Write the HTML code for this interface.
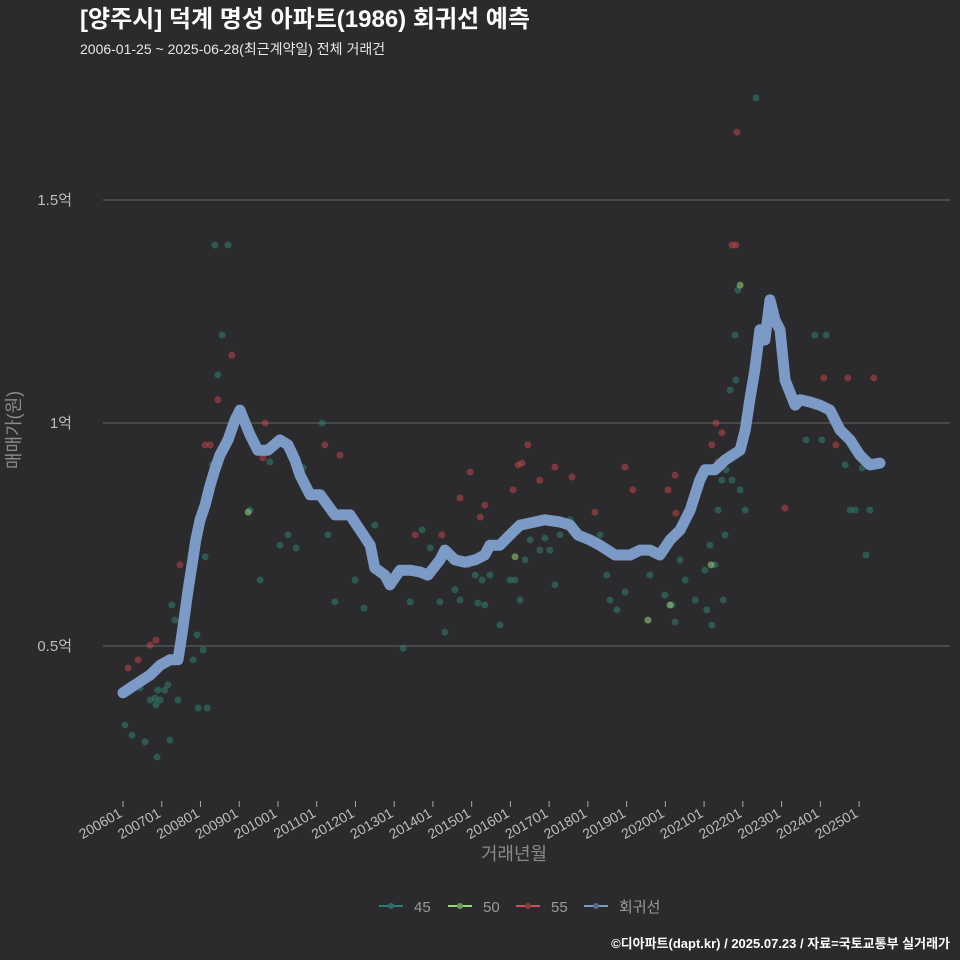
<!DOCTYPE html>
<html><head><meta charset="utf-8"><style>
html,body{margin:0;padding:0;background:#2b2a2c;}
svg{display:block;font-family:"Liberation Sans","Noto Sans CJK KR",sans-serif;}
</style></head><body>
<svg id="chart" width="960" height="960" viewBox="0 0 960 960">
<rect width="960" height="960" fill="#2b2a2c"/>
<text x="80" y="27" font-size="24" font-weight="bold" fill="#ffffff">[양주시] 덕계 명성 아파트(1986) 회귀선 예측</text>
<text x="80" y="54" font-size="14" fill="#e8e8e8">2006-01-25 ~ 2025-06-28(최근계약일) 전체 거래건</text>
<g id="grid"></g>
<g id="yaxis"></g>
<g id="xaxis"></g>
<g id="points"></g>
<path id="regline" fill="none" stroke="#7b9ac6" stroke-width="11" stroke-linejoin="round" stroke-linecap="round"/>
<text transform="translate(20,430) rotate(-90)" text-anchor="middle" font-size="18" fill="#8a8a8a">매매가(원)</text>
<text x="514" y="860" text-anchor="middle" font-size="18" fill="#8a8a8a">거래년월</text>
<g font-size="15" fill="#9a9a9a">
 <g><line x1="379" y1="906" x2="403" y2="906" stroke="#2a7f78" stroke-width="2"/><circle cx="391" cy="906" r="3" fill="#2a6f63"/><text x="414" y="912">45</text></g>
 <g><line x1="448" y1="906" x2="472" y2="906" stroke="#8fd97a" stroke-width="2"/><circle cx="460" cy="906" r="3" fill="#6aa056"/><text x="483" y="912">50</text></g>
 <g><line x1="516" y1="906" x2="540" y2="906" stroke="#d24f55" stroke-width="2"/><circle cx="528" cy="906" r="3" fill="#8a3a40"/><text x="551" y="912">55</text></g>
 <g><line x1="584" y1="906" x2="608" y2="906" stroke="#7b9ac6" stroke-width="2"/><circle cx="596" cy="906" r="3" fill="#556a8a"/><text x="619" y="912">회귀선</text></g>
</g>
<text x="950" y="948" text-anchor="end" font-size="13" font-weight="bold" fill="#ffffff">©디아파트(dapt.kr) / 2025.07.23 / 자료=국토교통부 실거래가</text>
</svg>
<script>
const yTicks=[0.5,1.0,1.5];
const yTickLabels=["0.5억","1억","1.5억"];
const xTickYears=[2006,2007,2008,2009,2010,2011,2012,2013,2014,2015,2016,2017,2018,2019,2020,2021,2022,2023,2024,2025];
const xTickLabels=["200601","200701","200801","200901","201001","201101","201201","201301","201401","201501","201601","201701","201801","201901","202001","202101","202201","202301","202401","202501"];
const regYears=[2006.0,2006.31,2006.7,2006.96,2007.21,2007.42,2007.52,2007.68,2007.78,2007.88,2007.99,2008.12,2008.25,2008.37,2008.5,2008.71,2008.89,2009.02,2009.12,2009.28,2009.48,2009.74,2010.05,2010.26,2010.44,2010.57,2010.83,2011.09,2011.47,2011.86,2012.12,2012.38,2012.5,2012.76,2012.89,2013.15,2013.41,2013.67,2013.87,2014.18,2014.31,2014.57,2014.83,2015.09,2015.34,2015.47,2015.73,2015.99,2016.25,2016.63,2016.89,2017.28,2017.54,2017.74,2018.05,2018.31,2018.7,2019.09,2019.35,2019.6,2019.86,2020.12,2020.38,2020.64,2020.89,2021.02,2021.28,2021.54,2021.93,2022.06,2022.18,2022.31,2022.44,2022.57,2022.7,2022.83,2022.96,2023.09,2023.35,2023.48,2023.73,2023.99,2024.25,2024.51,2024.77,2025.02,2025.28,2025.54];
const regValues=[0.395,0.413,0.435,0.457,0.469,0.469,0.525,0.626,0.682,0.738,0.783,0.816,0.861,0.895,0.928,0.962,1.007,1.029,1.007,0.973,0.939,0.939,0.962,0.951,0.917,0.883,0.839,0.839,0.794,0.794,0.76,0.726,0.675,0.659,0.637,0.67,0.67,0.666,0.659,0.693,0.715,0.693,0.688,0.693,0.704,0.726,0.726,0.749,0.771,0.778,0.783,0.778,0.771,0.749,0.738,0.726,0.704,0.704,0.715,0.715,0.704,0.738,0.76,0.805,0.872,0.895,0.895,0.917,0.939,0.984,1.052,1.119,1.209,1.186,1.276,1.231,1.209,1.096,1.04,1.052,1.047,1.04,1.029,0.984,0.962,0.928,0.906,0.91];
const s45Years=[2006.05,2006.18,2006.23,2006.44,2006.57,2006.7,2006.83,2006.85,2006.9,2006.88,2006.96,2007.08,2007.21,2007.16,2007.26,2007.34,2007.42,2007.81,2007.91,2007.94,2008.07,2008.12,2008.17,2008.3,2008.37,2008.45,2008.56,2008.71,2009.28,2009.54,2009.79,2010.05,2010.26,2010.47,2010.65,2011.14,2011.29,2011.47,2011.99,2012.22,2012.5,2013.23,2013.41,2013.72,2013.93,2014.18,2014.31,2014.57,2014.7,2014.91,2015.09,2015.16,2015.27,2015.34,2015.47,2015.73,2015.99,2016.12,2016.25,2016.38,2016.51,2016.76,2016.89,2017.02,2017.15,2017.28,2017.54,2017.8,2018.31,2018.49,2018.57,2018.75,2018.96,2019.6,2019.99,2020.17,2020.25,2020.38,2020.51,2020.77,2021.02,2021.07,2021.15,2021.2,2021.28,2021.36,2021.46,2021.57,2021.49,2021.54,2021.67,2021.72,2021.82,2021.8,2021.87,2021.93,2022.06,2022.34,2022.96,2023.63,2023.86,2024.04,2024.15,2024.64,2024.77,2024.9,2025.08,2025.18,2025.28];
const s45Values=[0.323,0.401,0.3,0.406,0.285,0.379,0.383,0.368,0.401,0.251,0.379,0.401,0.289,0.413,0.592,0.558,0.379,0.469,0.525,0.361,0.491,0.7,0.361,0.906,1.399,1.108,1.197,1.399,0.805,0.648,0.913,0.726,0.749,0.72,0.899,1.0,0.749,0.599,0.648,0.585,0.771,0.495,0.599,0.76,0.72,0.599,0.531,0.626,0.603,0.682,0.659,0.596,0.648,0.592,0.659,0.547,0.648,0.648,0.603,0.693,0.738,0.715,0.742,0.715,0.637,0.749,0.783,0.749,0.749,0.659,0.603,0.581,0.621,0.659,0.614,0.592,0.554,0.693,0.648,0.603,0.67,0.581,0.726,0.547,0.682,0.805,0.872,0.895,0.603,0.749,1.074,0.872,1.096,1.197,1.298,0.85,0.805,1.729,1.209,0.962,1.197,0.962,1.197,0.906,0.805,0.805,0.899,0.704,0.805];
const s50Years=[2009.23,2016.12,2019.55,2020.12,2021.18,2021.93];
const s50Values=[0.8,0.7,0.558,0.592,0.682,1.309];
const s55Years=[2006.13,2006.39,2006.7,2006.85,2007.47,2008.12,2008.25,2008.45,2008.81,2009.67,2009.61,2011.21,2011.6,2013.54,2014.23,2014.7,2014.96,2015.22,2015.34,2016.07,2016.2,2016.3,2016.45,2016.76,2017.15,2017.59,2018.18,2018.96,2019.16,2020.07,2020.25,2020.27,2021.2,2021.31,2021.36,2021.46,2021.72,2021.82,2021.85,2023.09,2024.09,2024.4,2024.71,2025.38];
const s55Values=[0.451,0.469,0.502,0.513,0.682,0.951,0.951,1.052,1.152,1.0,0.922,0.951,0.928,0.749,0.749,0.832,0.89,0.789,0.816,0.85,0.906,0.91,0.951,0.872,0.901,0.879,0.8,0.901,0.85,0.85,0.883,0.798,0.951,1.0,0.913,0.978,1.399,1.399,1.652,0.809,1.101,0.951,1.101,1.101];

const NS="http://www.w3.org/2000/svg";
function xs(yr){return 123+(yr-2006)*38.74;}
function ys(v){return 423-(v-1)*446;}
function mk(tag,attrs,parent){const e=document.createElementNS(NS,tag);for(const k in attrs)e.setAttribute(k,attrs[k]);parent.appendChild(e);return e;}
const grid=document.getElementById('grid'),yax=document.getElementById('yaxis'),xax=document.getElementById('xaxis'),pts=document.getElementById('points');
yTicks.forEach((t,i)=>{
 const l=mk('line',{x1:103,x2:950,y1:ys(t),y2:ys(t),stroke:'#5c5c5c','stroke-width':1.2},grid);
 
 
 const tx=mk('text',{x:72,y:ys(t)+5,'text-anchor':'end','font-size':15,fill:'#bdbdbd'},yax);
 tx.textContent=yTickLabels[i];
 
 
});
xTickYears.forEach((t,i)=>{
 const x=xs(t);
 const tk=mk('line',{x1:x,x2:x,y1:801,y2:807,stroke:'#aaaaaa','stroke-width':1},xax);
 
 
 const tx=mk('text',{x:x,y:816,'text-anchor':'end','font-size':14,fill:'#bdbdbd',transform:'rotate(-30 '+x+' 816)'},xax);
 tx.textContent=xTickLabels[i];
 
 
});
function drawSeries(yrs,vals,color,name){
 yrs.forEach((yr,i)=>{
  const c=mk('circle',{cx:xs(yr),cy:ys(vals[i]),r:3.5,fill:color,'fill-opacity':0.55},pts);
  
  
 });
}
drawSeries(s45Years,s45Values,'#2f8070','point-45');
drawSeries(s55Years,s55Values,'#c0454c','point-55');
drawSeries(s50Years,s50Values,'#9bd67f','point-50');
let d='';
regYears.forEach((yr,i)=>{d+=(i?'L':'M')+xs(yr).toFixed(1)+','+ys(regValues[i]).toFixed(1);});
document.getElementById('regline').setAttribute('d',d);
</script>
</body></html>
